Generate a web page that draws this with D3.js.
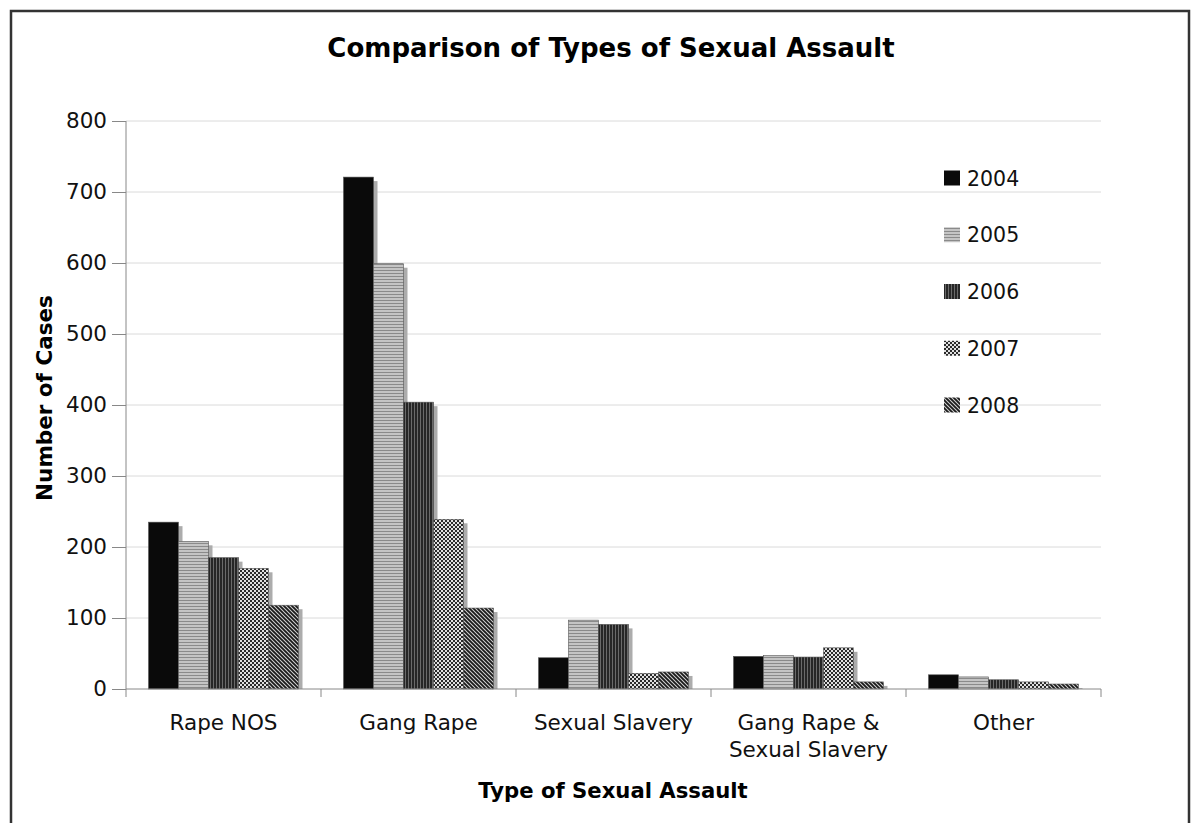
<!DOCTYPE html>
<html>
<head>
<meta charset="utf-8">
<script src="https://cdn.jsdelivr.net/npm/d3@7"></script>
<style>
  html, body { margin: 0; padding: 0; background: #fff; }
  svg { display: block; font-family: "DejaVu Sans", Verdana, sans-serif; }
</style>
</head>
<body>
<svg id="chart" width="1196" height="823"></svg>
<script>
const categories = ["Rape NOS", "Gang Rape", "Sexual Slavery", "Gang Rape & Sexual Slavery", "Other"];
const categoryLines = [["Rape NOS"], ["Gang Rape"], ["Sexual Slavery"], ["Gang Rape &", "Sexual Slavery"], ["Other"]];
const years = ["2004", "2005", "2006", "2007", "2008"];
const values2004 = [235, 721, 44, 46, 20];
const values2005 = [208, 599, 97, 47, 17];
const values2006 = [185, 404, 91, 45, 13];
const values2007 = [170, 239, 22, 58, 10];
const values2008 = [118, 114, 24, 10, 7];
const yTicks = [0, 100, 200, 300, 400, 500, 600, 700, 800];
const seriesValues = [values2004, values2005, values2006, values2007, values2008];

const svg = d3.select("#chart");

// Patterns
const defs = svg.append("defs");
let p = defs.append("pattern").attr("id", "p2005").attr("patternUnits", "userSpaceOnUse").attr("width", 4).attr("height", 3);
p.append("rect").attr("width", 4).attr("height", 3).attr("fill", "#c4c4c4");
p.append("rect").attr("y", 0).attr("width", 4).attr("height", 1).attr("fill", "#8a8a8a");
p = defs.append("pattern").attr("id", "p2006").attr("patternUnits", "userSpaceOnUse").attr("width", 3).attr("height", 4);
p.append("rect").attr("width", 3).attr("height", 4).attr("fill", "#262626");
p.append("rect").attr("x", 0).attr("width", 1).attr("height", 4).attr("fill", "#6a6a6a");
p = defs.append("pattern").attr("id", "p2007").attr("patternUnits", "userSpaceOnUse").attr("width", 4).attr("height", 4);
p.append("rect").attr("width", 4).attr("height", 4).attr("fill", "#e0e0e0");
p.append("rect").attr("x", 0).attr("y", 0).attr("width", 2).attr("height", 2).attr("fill", "#2a2a2a");
p.append("rect").attr("x", 2).attr("y", 2).attr("width", 2).attr("height", 2).attr("fill", "#2a2a2a");
p = defs.append("pattern").attr("id", "p2008").attr("patternUnits", "userSpaceOnUse").attr("width", 4).attr("height", 4);
p.append("rect").attr("width", 4).attr("height", 4).attr("fill", "#d0d0d0");
p.append("path").attr("d", "M-1,-1 L5,5 M-1,3 L1,5 M3,-1 L5,1").attr("stroke", "#1a1a1a").attr("stroke-width", 1.8);

const fills = ["#0a0a0a", "url(#p2005)", "url(#p2006)", "url(#p2007)", "url(#p2008)"];

// Border
svg.append("path").attr("d", "M11,830 L11,11 L1189,11 L1189,830")
  .attr("fill", "none").attr("stroke", "#333").attr("stroke-width", 2.5);

const plotLeft = 126, plotRight = 1101, plotTop = 121, plotBottom = 689;

const x0 = d3.scaleBand().domain(categories).range([plotLeft, plotRight]).paddingInner(0).paddingOuter(0);
const x1 = d3.scaleBand().domain(years).range([0, x0.bandwidth()]).paddingInner(0).paddingOuter(0.75);
const y = d3.scaleLinear().domain([0, 800]).range([plotBottom, plotTop]);

// Gridlines
svg.append("g").selectAll("line").data(yTicks.filter(d => d > 0)).join("line")
  .attr("x1", plotLeft).attr("x2", plotRight)
  .attr("y1", d => y(d)).attr("y2", d => y(d))
  .attr("stroke", "#dadada").attr("stroke-width", 1);

// Bars
categories.forEach((cat, ci) => {
  const g = svg.append("g").attr("transform", `translate(${x0(cat)},0)`);
  years.forEach((yr, yi) => {
    const v = seriesValues[yi][ci];
    const bx = x1(yr), bw = x1.bandwidth();
    g.append("rect")
      .attr("x", bx + 4).attr("y", y(v) + 4)
      .attr("width", bw).attr("height", Math.max(0, plotBottom - y(v) - 4))
      .attr("fill", "#acacac");
    g.append("rect")
      .attr("x", bx).attr("y", y(v))
      .attr("width", bw).attr("height", plotBottom - y(v))
      .attr("fill", fills[yi])
      .attr("stroke", "#555").attr("stroke-width", 0.6);
  });
});

// Y axis
const yAxis = d3.axisLeft(y).tickValues(yTicks).tickSize(14).tickPadding(5);
const yg = svg.append("g").attr("transform", `translate(${plotLeft},0)`).call(yAxis);
yg.select(".domain").attr("stroke", "#888").attr("d", `M0,${plotBottom}V${plotTop}`);
yg.selectAll(".tick line").attr("stroke", "#888");
yg.selectAll(".tick text").attr("font-size", 21.5).attr("fill", "#111").attr("font-family", "DejaVu Sans, Verdana, sans-serif");

// X axis
const xg = svg.append("g").attr("transform", `translate(0,${plotBottom})`);
xg.append("line").attr("x1", plotLeft).attr("x2", plotRight).attr("y1", 0).attr("y2", 0).attr("stroke", "#888");
const boundaries = categories.map(c => x0(c)).concat([plotRight]);
xg.selectAll("line.tk").data(boundaries).join("line").attr("class", "tk")
  .attr("x1", d => d).attr("x2", d => d).attr("y1", 0).attr("y2", 8).attr("stroke", "#888");
categories.forEach((cat, ci) => {
  const cx = x0(cat) + x0.bandwidth() / 2;
  categoryLines[ci].forEach((ln, li) => {
    xg.append("text").attr("x", cx).attr("y", 41 + li * 27)
      .attr("text-anchor", "middle").attr("font-size", 21.5).attr("fill", "#111").text(ln);
  });
});

// Title
svg.append("text").attr("x", 611).attr("y", 57).attr("text-anchor", "middle")
  .attr("font-size", 26).attr("font-weight", "bold").attr("fill", "#000")
  .text("Comparison of Types of Sexual Assault");

// Axis titles
svg.append("text").attr("x", 613).attr("y", 798).attr("text-anchor", "middle")
  .attr("font-size", 21.2).attr("font-weight", "bold").attr("fill", "#000")
  .text("Type of Sexual Assault");
svg.append("text").attr("transform", "translate(52,398) rotate(-90)").attr("text-anchor", "middle")
  .attr("font-size", 21.5).attr("font-weight", "bold").attr("fill", "#000")
  .text("Number of Cases");

// Legend
const legend = svg.append("g");
years.forEach((yr, i) => {
  const ly = 178 + i * 56.75;
  legend.append("rect").attr("x", 944).attr("y", ly - 7.5).attr("width", 16).attr("height", 15)
    .attr("fill", fills[i]);
  legend.append("text").attr("x", 967).attr("y", ly + 7.5).attr("font-size", 20.5).attr("fill", "#111").text(yr);
});
</script>
</body>
</html>
